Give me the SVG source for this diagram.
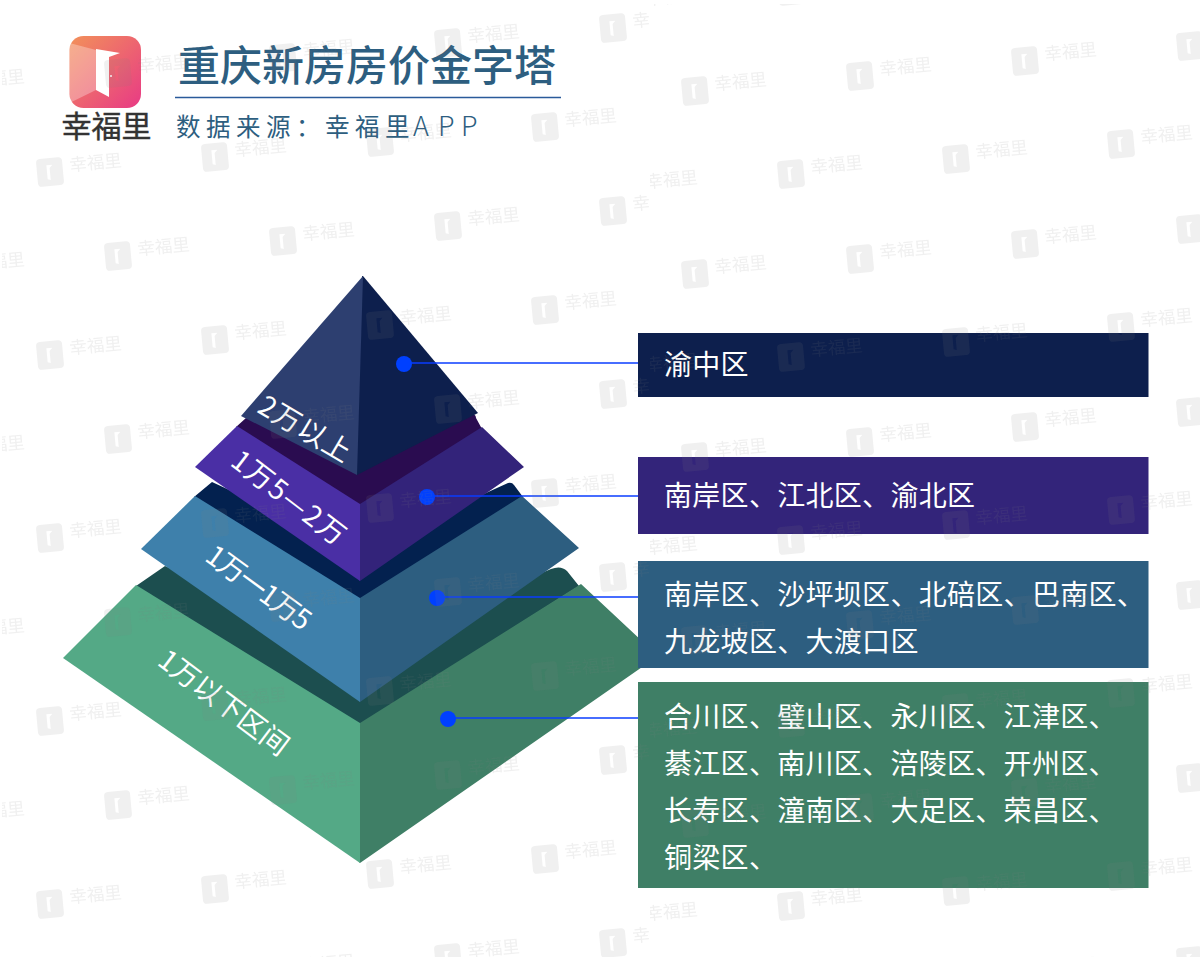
<svg xmlns="http://www.w3.org/2000/svg" xmlns:xlink="http://www.w3.org/1999/xlink" width="1200" height="957" viewBox="0 0 1200 957">
<style>
text{font-family:"Noto Sans CJK SC","Noto Sans",sans-serif}
.box{font-size:28px;fill:#fff;letter-spacing:.3px;font-weight:400}
.tier{font-size:28px;fill:#fff;font-weight:400;text-anchor:middle;dominant-baseline:central}
.wmt{font-size:17.500px;fill:#808080}
.ln{stroke:#0a3cff;stroke-width:1.5;fill:none}
.dot{fill:#0040ff}
</style>
<defs>
<linearGradient id="lg" x1="0" y1="0" x2="1" y2="1"><stop offset="0" stop-color="#f2915a"/><stop offset="1" stop-color="#e83a85"/></linearGradient>
<clipPath id="cl"><rect x="0" y="0" width="648" height="957"/></clipPath>
<clipPath id="cr"><rect x="648" y="0" width="552" height="957"/></clipPath>
<g id="wm" transform="rotate(-5.3)">
<path fill="#808080" fill-rule="evenodd" d="M-9-14H9a4 4 0 0 1 4 4V10a4 4 0 0 1-4 4H-9a4 4 0 0 1-4-4V-10a4 4 0 0 1 4-4ZM-3-7V7L0 8V-4L3-7Z"/>
<text class="wmt" x="20" y="1">幸福里</text>
</g>
<g id="wcol">
<use xlink:href="#wm" href="#wm" y="0"/><use xlink:href="#wm" href="#wm" y="183"/><use xlink:href="#wm" href="#wm" y="366"/><use xlink:href="#wm" href="#wm" y="549"/><use xlink:href="#wm" href="#wm" y="732"/><use xlink:href="#wm" href="#wm" y="915"/>
</g>
</defs>
<rect width="1200" height="957" fill="#fff"/>

<g id="header">
<g id="logo">
<rect x="69.500" y="36" width="71.500" height="72" rx="14" fill="url(#lg)"/>
<path d="M69.500 43L96 50V90L69.500 103Z" fill="#fff" opacity=".3"/>
<path d="M96 49L120 53L109 57V97L96 90Z" fill="#fff"/>
<circle cx="111" cy="76" r="1" fill="#fff"/>
<text x="106.500" y="137" font-size="30" font-weight="400" fill="#333" stroke="#333" stroke-width=".4" text-anchor="middle">幸福里</text>
</g>
<text id="title" x="178" y="81" font-size="42" font-weight="500" fill="#2d5e80" textLength="378">重庆新房房价金字塔</text>
<line x1="175" y1="97.500" x2="561" y2="97.500" stroke="#2a5a9a" stroke-width="1.500"/>
<text id="source" x="176 206 236 266 296 325 355 385" y="136" font-size="24.500" fill="#2d5e80">数据来源：幸福里</text>
<text id="source-app" x="413 438 461" y="136" font-size="27" font-weight="300" fill="#2d5e80">APP</text>
</g>

<g id="tier-4">
<path fill="#1c4e4f" d="M136 586L165 566L360 650L551 569Q561 565 567 571L579 586L360 725Z"/>
<path fill="#3f7f66" d="M359 723L360 723L581 584L658 656L360 863L359 862Z"/>
<path fill="#54a986" d="M63 658L136 585L360 723V863Z"/>
<text class="tier" transform="translate(225 701) rotate(37)" textLength="155">1万以下区间</text>
</g>
<g id="tier-3">
<path fill="#03214f" d="M194 497L212 482L360 550L508 483Q512 482 514 485L523 497L360 600Z"/>
<path fill="#2d5e80" d="M359 598L360 598L522 496L579 548L360 702L359 701Z"/>
<path fill="#3e80ab" d="M141 549L195 496L360 598V702Z"/>
<text class="tier" transform="translate(260 586) rotate(36)" textLength="122">1万一1万5</text>
</g>
<g id="tier-2">
<path fill="#2a0c50" d="M236 427L246 418L360 440L473 414Q476 415 476 418L482 429L360 506Z"/>
<path fill="#33237a" d="M359 504L360 504L482 427L524 467L360 581L359 580Z"/>
<path fill="#4a2fa5" d="M195 467L237 426L360 504V581Z"/>
<text class="tier" transform="translate(290 496) rotate(37.400)" textLength="135">1万5—2万</text>
</g>
<g id="tier-1">
<path fill="#0d1f4d" d="M362 276L363 276L478 413L357 475L356 474Z"/>
<path fill="#2d3f70" d="M363 276L241 416L357 475Z"/>
<text class="tier" transform="translate(306 427) rotate(30.500)" textLength="102">2万以上</text>
</g>

<g id="box-1"><rect x="638" y="333" width="510.500" height="64" fill="#0d1f4d"/><text class="box" x="664" y="375">渝中区</text></g>
<g id="box-2"><rect x="638" y="457" width="510.500" height="77" fill="#33247a"/><text class="box" x="664" y="506">南岸区、江北区、渝北区</text></g>
<g id="box-3"><rect x="638" y="561" width="510.500" height="107" fill="#2d5e80"/>
<text class="box" x="664" y="605">南岸区、沙坪坝区、北碚区、巴南区、</text>
<text class="box" x="664" y="652">九龙坡区、大渡口区</text></g>
<g id="box-4"><rect x="638" y="682" width="510.500" height="206" fill="#3f7f66"/>
<text class="box" x="664" y="727">合川区、璧山区、永川区、江津区、</text>
<text class="box" x="664" y="774">綦江区、南川区、涪陵区、开州区、</text>
<text class="box" x="664" y="821">长寿区、潼南区、大足区、荣昌区、</text>
<text class="box" x="664" y="868">铜梁区、</text></g>

<g id="connectors">
<line class="ln" x1="404" y1="363" x2="638" y2="363"/><circle class="dot" cx="404" cy="364" r="8"/>
<line class="ln" x1="427" y1="496" x2="638" y2="496"/><circle class="dot" cx="427" cy="497" r="8"/>
<line class="ln" x1="437" y1="597" x2="638" y2="597"/><circle class="dot" cx="437" cy="598" r="8"/>
<line class="ln" x1="448" y1="718" x2="638" y2="718"/><circle class="dot" cx="448" cy="719" r="8"/>
</g>

<g id="watermarks" opacity=".12" transform="translate(2 4)">
<g clip-path="url(#cl)">
<use xlink:href="#wcol" href="#wcol" transform="translate(611 24)"/>
<use xlink:href="#wcol" href="#wcol" transform="translate(446 39)"/>
<use xlink:href="#wcol" href="#wcol" transform="translate(281 54)"/>
<use xlink:href="#wcol" href="#wcol" transform="translate(116 69)"/>
<use xlink:href="#wcol" href="#wcol" transform="translate(-49 84)"/>
<use xlink:href="#wcol" href="#wcol" transform="translate(543 123)"/>
<use xlink:href="#wcol" href="#wcol" transform="translate(378 138)"/>
<use xlink:href="#wcol" href="#wcol" transform="translate(213 153)"/>
<use xlink:href="#wcol" href="#wcol" transform="translate(48 168)"/>
</g>
<g clip-path="url(#cr)">
<use xlink:href="#wcol" href="#wcol" transform="translate(1188 42)"/>
<use xlink:href="#wcol" href="#wcol" transform="translate(1023 57)"/>
<use xlink:href="#wcol" href="#wcol" transform="translate(858 72)"/>
<use xlink:href="#wcol" href="#wcol" transform="translate(693 87)"/>
<use xlink:href="#wcol" href="#wcol" transform="translate(1119 140)"/>
<use xlink:href="#wcol" href="#wcol" transform="translate(954 155)"/>
<use xlink:href="#wcol" href="#wcol" transform="translate(789 -13)"/>
<use xlink:href="#wcol" href="#wcol" transform="translate(624 2)"/>
</g>
</g>
</svg>
